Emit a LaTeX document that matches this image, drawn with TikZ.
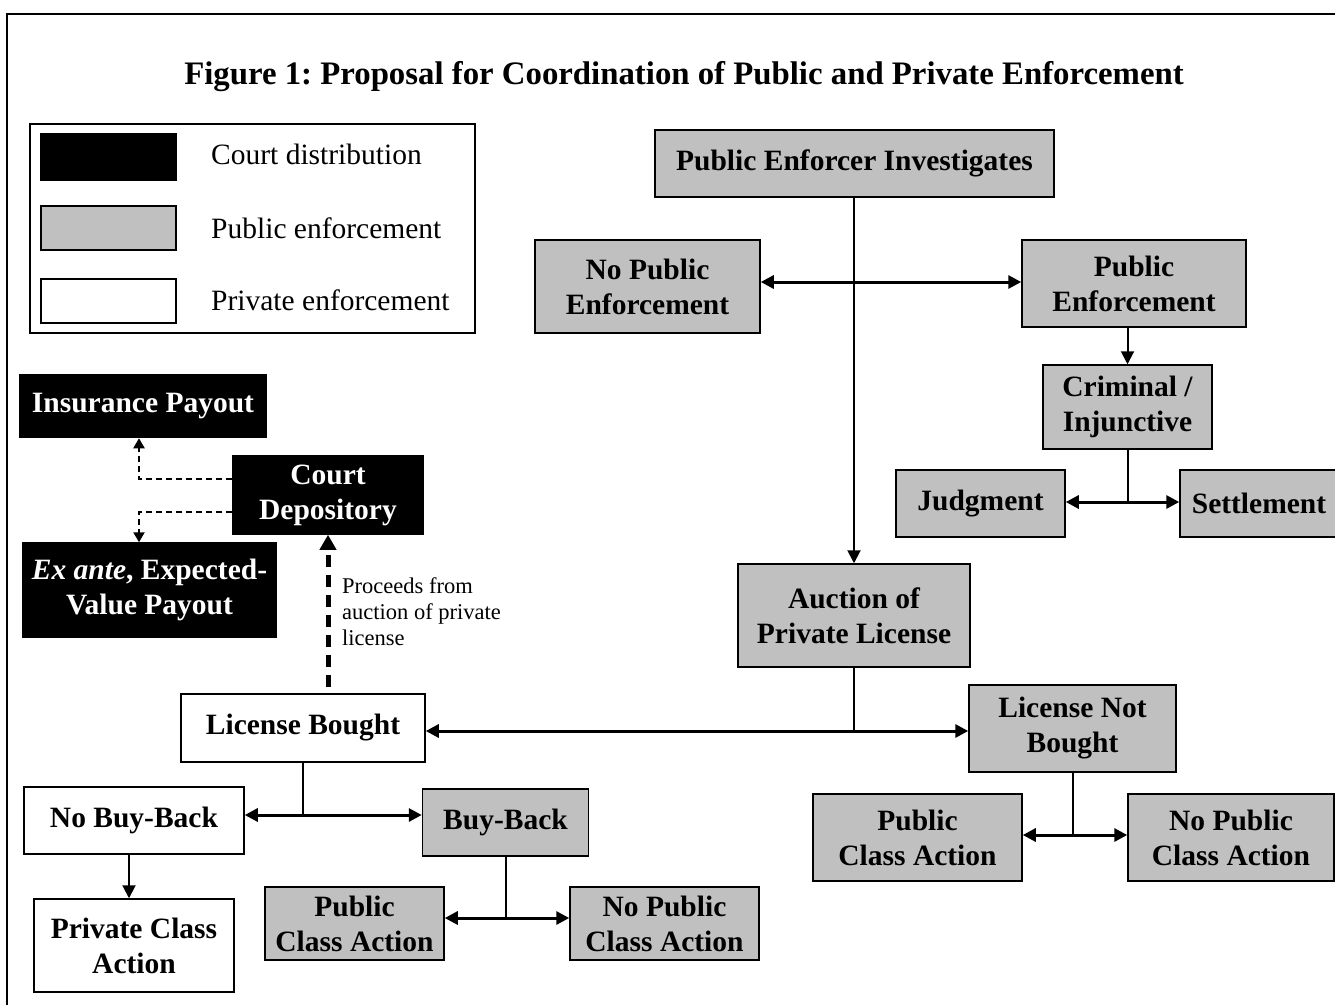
\documentclass[tikz,border=0pt]{standalone}
\usepackage{fontspec}
\setmainfont{Liberation Serif}
\usetikzlibrary{arrows.meta}
\definecolor{pubgray}{HTML}{C0C0C0}
\frenchspacing
\tikzset{
  every node/.style={font=\fontsize{29.5}{35}\selectfont\bfseries, align=center, inner sep=0pt},
  dims/.style 2 args={minimum width=#1, minimum height=#2},
  courtbox/.style={draw=black, fill=black, text=white, line width=1.5pt},
  pubbox/.style={draw=black, fill=pubgray, line width=1.5pt},
  privbox/.style={draw=black, fill=white, line width=1.5pt},
  legtext/.style={font=\fontsize{29.5}{35}\selectfont, anchor=base west},
  stem/.style={line width=2pt},
  down/.style={line width=2pt, -{Triangle[length=13pt,width=13pt]}},
  link/.style={line width=3pt, {Triangle[length=13pt,width=13pt]}-{Triangle[length=13pt,width=13pt]}},
  bigdash/.style={line width=5pt, dash pattern=on 12pt off 8pt, -{Triangle[length=15pt,width=16pt]}},
  smalldash/.style={line width=2.2pt, dash pattern=on 6pt off 4pt, -{Triangle[length=10pt,width=11pt]}}
}
\begin{document}
\begin{tikzpicture}[x=1pt, y=-1pt]
  \useasboundingbox (0,0) rectangle (1335,1004);
  \draw[line width=2pt] (7,14) rectangle (1345,1014);

  \node[font=\fontsize{32.8}{38}\selectfont\bfseries, anchor=base] (title) at (684,84)
    {Figure 1: Proposal for Coordination of Public and Private Enforcement};

  % legend
  \node[draw=black, line width=1.2pt, dims={445}{209}] (legend) at (252.5,228.5) {};
  \node[courtbox, dims={135}{46}] (kcourt) at (108.5,157) {};
  \node[pubbox, dims={135}{44}] (kpub) at (108.5,228) {};
  \node[privbox, dims={135}{44}] (kpriv) at (108.5,301) {};
  \node[legtext] (lcourt) at (211,164) {Court distribution};
  \node[legtext] (lpub) at (211,238) {Public enforcement};
  \node[legtext] (lpriv) at (211,310) {Private enforcement};

  \node[pubbox, dims={399}{67}] (pei) at (854.5,163.5) {Public Enforcer Investigates};
  \node[pubbox, dims={225}{93}] (npe) at (647.5,286.5) {No Public\\Enforcement};
  \node[pubbox, dims={224}{87}] (pe) at (1134,283.5) {Public\\Enforcement};
  \node[pubbox, dims={169}{84}] (ci) at (1127.5,407) {Criminal /\\Injunctive};
  \node[pubbox, dims={169}{67}] (judg) at (980.5,503.5) {Judgment};
  \node[pubbox, dims={158}{67}] (sett) at (1259,503.5) {Settlement};
  \node[pubbox, dims={232}{103}] (auct) at (854,615.5) {Auction of\\Private License};
  \node[pubbox, dims={207}{87}] (lnb) at (1072.5,728.5) {License Not\\Bought};
  \node[pubbox, dims={209}{87}] (pca2) at (917.5,837.5) {Public\\Class Action};
  \node[pubbox, dims={206}{87}] (npca2) at (1231,837.5) {No Public\\Class Action};

  \node[privbox, dims={244}{68}] (lb) at (303,728) {License Bought};
  \node[privbox, dims={220}{67}] (nbb) at (134,820.5) {No Buy-Back};
  \node[pubbox, dims={166}{67}] (bb) at (505.5,822.5) {Buy-Back};
  \node[privbox, dims={200}{93}] (prca) at (134,945.5) {Private Class\\Action};
  \node[pubbox, dims={179}{73}] (pca1) at (354.5,923.5) {Public\\Class Action};
  \node[pubbox, dims={189}{73}] (npca1) at (664.5,923.5) {No Public\\Class Action};

  \node[courtbox, dims={246}{63}] (ip) at (143,406) {Insurance Payout};
  \node[courtbox, dims={190}{78}] (cd) at (328,495) {Court\\Depository};
  \node[courtbox, dims={253}{94}] (ea) at (149.5,590) {\textit{Ex ante}, Expected-\\Value Payout};

  \node[font=\fontsize{22.5}{26}\selectfont, align=left, anchor=north west] (proc) at (342,577)
    {Proceeds from\\auction of private\\license};

  \coordinate (j1) at (auct.north |- 0,282);
  \coordinate (j2) at (ci.south |- 0,502);
  \coordinate (j3) at (auct.south |- 0,731);
  \coordinate (j4) at (lnb.south |- 0,835);
  \coordinate (j5) at (lb.south |- 0,815);
  \coordinate (j6) at (bb.south |- 0,918);

  \draw[down] (auct.north |- pei.south) -- (auct.north);
  \draw[link] (npe.east |- j1) -- (pe.west |- j1);
  \draw[down] (ci.north |- pe.south) -- (ci.north);
  \draw[stem] (ci.south) -- (j2);
  \draw[link] (judg.east |- j2) -- (sett.west |- j2);
  \draw[stem] (auct.south) -- (j3);
  \draw[link] (lb.east |- j3) -- (lnb.west |- j3);
  \draw[stem] (lnb.south) -- (j4);
  \draw[link] (pca2.east |- j4) -- (npca2.west |- j4);
  \draw[stem] (lb.south) -- (j5);
  \draw[link] (nbb.east |- j5) -- (bb.west |- j5);
  \draw[down] ([xshift=-5pt]nbb.south) -- ([xshift=-5pt]prca.north);
  \draw[stem] (bb.south) -- (j6);
  \draw[link] (pca1.east |- j6) -- (npca1.west |- j6);

  \draw[bigdash] ([yshift=6pt]cd.south |- lb.north) -- (cd.south);
  \draw[smalldash] ([yshift=16pt]cd.west) -| ([xshift=-4pt]ip.south);
  \draw[smalldash] ([yshift=-17pt]cd.west) -| ([xshift=-10.5pt]ea.north);
\end{tikzpicture}
\end{document}
